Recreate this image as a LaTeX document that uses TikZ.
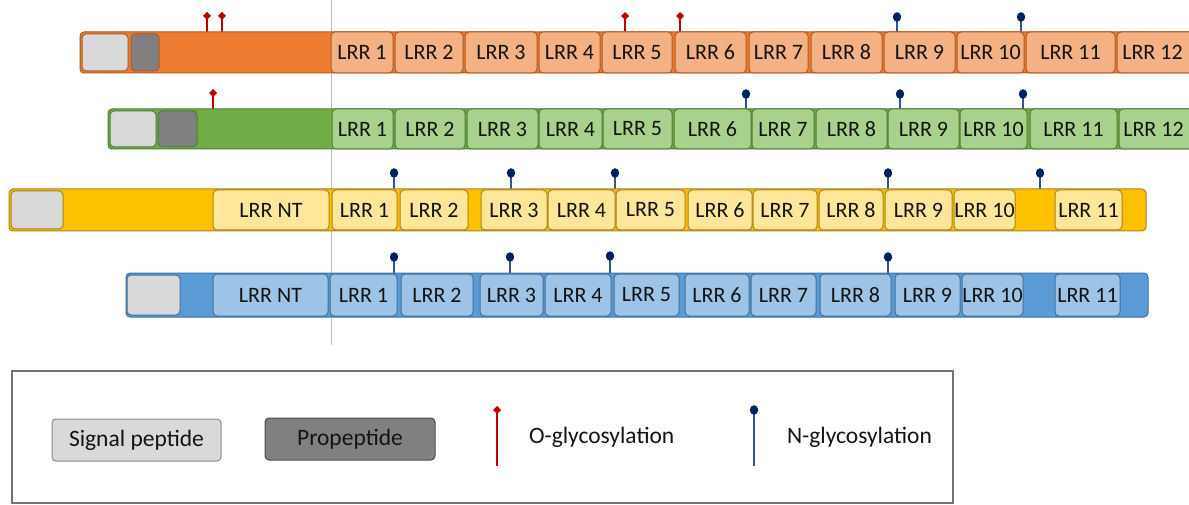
\documentclass[tikz,border=0pt]{standalone}
\usepackage{fontspec}
\setmainfont{Carlito}
\definecolor{orbar}{HTML}{ED7D31}\definecolor{orbox}{HTML}{F4B183}\definecolor{oredge}{HTML}{AE5A21}
\definecolor{grbar}{HTML}{70AD47}\definecolor{grbox}{HTML}{A9D18E}\definecolor{gredge}{HTML}{507E32}
\definecolor{yebar}{HTML}{FFC000}\definecolor{yebox}{HTML}{FFE699}\definecolor{yeedge}{HTML}{A8841A}
\definecolor{blbar}{HTML}{5B9BD5}\definecolor{blbox}{HTML}{9DC3E6}\definecolor{bledge}{HTML}{41719C}
\definecolor{sigc}{HTML}{D9D9D9}\definecolor{proc}{HTML}{808080}
\definecolor{ored}{HTML}{C00000}\definecolor{nblue}{HTML}{002060}\definecolor{nline}{HTML}{2F5597}
\definecolor{txt}{HTML}{141414}
\newcommand{\bx}[7]{\pgfmathsetmacro\bw{#3-#2}\pgfmathsetmacro\bh{#5-#4}%
\node[#1, minimum width=\bw pt, minimum height=\bh pt] (#7) at ({(#2+#3)/2},{(#4+#5)/2}) {#6};}
% #1 name, #2 x, #3 base y, #4 length
\newcommand{\opin}[4]{\coordinate (#1) at (#2,#3);
\draw[ored, line width=1.4pt] (#1) -- ++(0,-#4) coordinate (#1t);
\fill[ored] (#1t) ++(0,-4) -- ++(4,4) -- ++(-4,4) -- ++(-4,-4) -- cycle;}
\newcommand{\npin}[4]{\coordinate (#1) at (#2,#3);
\draw[nline, line width=1.4pt] (#1) -- ++(0,-#4) coordinate (#1t);
\fill[nblue] (#1t) ellipse [x radius=4.2, y radius=4.8];}
\tikzset{
 base/.style={rounded corners=4pt, inner sep=0pt, outer sep=0pt, line width=1pt, text=txt, font=\fontsize{22}{26}\selectfont},
 lfont/.style={font=\fontsize{23.5}{28}\selectfont},
 obar/.style={base, draw=oredge, fill=orbar}, obox/.style={base, draw=oredge, fill=orbox},
 gbar/.style={base, draw=gredge, fill=grbar}, gbox/.style={base, draw=gredge, fill=grbox},
 ybar/.style={base, draw=yeedge, fill=yebar}, ybox/.style={base, draw=yeedge, fill=yebox},
 bbar/.style={base, draw=bledge, fill=blbar}, bbox/.style={base, draw=bledge, fill=blbox},
 sig/.style={base, fill=sigc, draw=#1}, pro/.style={base, fill=proc, draw=#1},
}
\begin{document}
\begin{tikzpicture}[x=1pt,y=-1pt]
\useasboundingbox (0,0) rectangle (1189,505);
\clip (0,0) rectangle (1189,505);
% vertical reference line
\coordinate (vt) at (331,0); \coordinate (vb) at (331,345);
\draw[black!25, line width=0.8pt] (vt) -- (vb);
% ---------- Row 1 (orange)
\opin{o1}{207}{32}{16}\opin{o2}{222}{32}{16}\opin{o3}{625}{32}{16}\opin{o4}{680}{32}{16}
\npin{n1}{897}{32}{15}\npin{n2}{1021}{32}{15}
\bx{obar}{80}{1210}{32}{73}{}{r1bar}
\bx{sig=oredge}{82}{128}{34}{71}{}{r1sig}
\bx{pro=oredge}{131}{159}{34}{71}{}{r1pro}
\bx{obox}{331}{393}{32}{73}{LRR 1}{r1a}
\bx{obox}{395}{463}{32}{73}{LRR 2}{r1b}
\bx{obox}{465}{537}{32}{73}{LRR 3}{r1c}
\bx{obox}{539}{600}{32}{73}{LRR 4}{r1d}
\bx{obox}{602}{672}{32}{73}{LRR 5}{r1e}
\bx{obox}{675}{746}{32}{73}{LRR 6}{r1f}
\bx{obox}{749}{808}{32}{73}{LRR 7}{r1g}
\bx{obox}{811}{882}{32}{73}{LRR 8}{r1h}
\bx{obox}{884}{955}{32}{73}{LRR 9}{r1i}
\bx{obox}{957}{1024}{32}{73}{LRR 10}{r1j}
\bx{obox}{1026}{1115}{32}{73}{LRR 11}{r1k}
\bx{obox}{1117}{1196}{32}{73}{\hspace*{-8pt}LRR 12}{r1l}
% ---------- Row 2 (green)
\opin{o5}{213}{109}{16}
\npin{n3}{746}{109}{15}\npin{n4}{900}{109}{15}\npin{n5}{1023}{109}{15}
\bx{gbar}{108}{1210}{109}{149}{}{r2bar}
\bx{sig=gredge}{110}{156}{111}{147}{}{r2sig}
\bx{pro=gredge}{158}{197}{111}{147}{}{r2pro}
\bx{gbox}{332}{393}{109}{149}{LRR 1}{r2a}
\bx{gbox}{395}{465}{109}{149}{LRR 2}{r2b}
\bx{gbox}{467}{538}{109}{149}{LRR 3}{r2c}
\bx{gbox}{539}{602}{109}{149}{LRR 4}{r2d}
\bx{gbox}{603}{672}{109}{149}{LRR 5}{r2e}
\bx{gbox}{674}{751}{109}{149}{LRR 6}{r2f}
\bx{gbox}{752}{814}{109}{149}{LRR 7}{r2g}
\bx{gbox}{816}{887}{109}{149}{LRR 8}{r2h}
\bx{gbox}{888}{959}{109}{149}{LRR 9}{r2i}
\bx{gbox}{960}{1027}{109}{149}{LRR 10}{r2j}
\bx{gbox}{1030}{1117}{109}{149}{LRR 11}{r2k}
\bx{gbox}{1119}{1196}{109}{149}{\hspace*{-8pt}LRR 12}{r2l}
% ---------- Row 3 (yellow)
\npin{n6}{394}{189}{16}\npin{n7}{511}{189}{16}\npin{n8}{615}{189}{16}\npin{n9}{888}{189}{16}\npin{n10}{1040}{189}{16}
\bx{ybar}{9}{1146}{189}{231}{}{r3bar}
\bx{sig=yeedge}{11}{63}{191}{229}{}{r3sig}
\bx{ybox}{213}{329}{190}{230}{LRR NT}{r3nt}
\bx{ybox}{332}{397}{190}{230}{LRR 1}{r3a}
\bx{ybox}{400}{468}{190}{230}{LRR 2}{r3b}
\bx{ybox}{481}{547}{190}{230}{LRR 3}{r3c}
\bx{ybox}{548}{615}{190}{230}{LRR 4}{r3d}
\bx{ybox}{616}{685}{190}{230}{LRR 5}{r3e}
\bx{ybox}{688}{752}{190}{230}{LRR 6}{r3f}
\bx{ybox}{753}{817}{190}{230}{LRR 7}{r3g}
\bx{ybox}{819}{883}{190}{230}{LRR 8}{r3h}
\bx{ybox}{885}{952}{190}{230}{LRR 9}{r3i}
\bx{ybox}{954}{1015}{190}{230}{LRR 10}{r3j}
\bx{ybox}{1055}{1122}{190}{230}{LRR 11}{r3k}
% ---------- Row 4 (blue)
\npin{n11}{394}{273}{16}\npin{n12}{510}{273}{16}\npin{n13}{610}{273}{17}\npin{n14}{888}{273}{16}
\bx{bbar}{126}{1148}{273}{317}{}{r4bar}
\bx{sig=bledge}{127}{180}{275}{315}{}{r4sig}
\bx{bbox}{213}{328}{274}{316}{LRR NT}{r4nt}
\bx{bbox}{330}{397}{274}{316}{LRR 1}{r4a}
\bx{bbox}{401}{473}{274}{316}{LRR 2}{r4b}
\bx{bbox}{480}{543}{274}{316}{LRR 3}{r4c}
\bx{bbox}{545}{611}{274}{316}{LRR 4}{r4d}
\bx{bbox}{614}{679}{274}{316}{LRR 5}{r4e}
\bx{bbox}{685}{749}{274}{316}{LRR 6}{r4f}
\bx{bbox}{751}{816}{274}{316}{LRR 7}{r4g}
\bx{bbox}{820}{891}{274}{316}{LRR 8}{r4h}
\bx{bbox}{895}{960}{274}{316}{LRR 9}{r4i}
\bx{bbox}{962}{1023}{274}{316}{LRR 10}{r4j}
\bx{bbox}{1055}{1120}{274}{316}{LRR 11}{r4k}
% ---------- Legend
\bx{base, rounded corners=0pt, draw=black!55, line width=1.2pt}{12}{953}{371}{503}{}{leg}
\bx{sig=black!45, lfont}{52}{221}{419}{461}{Signal peptide}{lsig}
\bx{pro=black!70, lfont}{265}{435}{418}{460}{Propeptide}{lpro}
\opin{lo}{497}{466}{56}
\npin{ln}{754}{466}{56}
\node[base, lfont, anchor=west] (lotxt) at (529,437) {O-glycosylation};
\node[base, lfont, anchor=west] (lntxt) at (787,437) {N-glycosylation};
\end{tikzpicture}
\end{document}
